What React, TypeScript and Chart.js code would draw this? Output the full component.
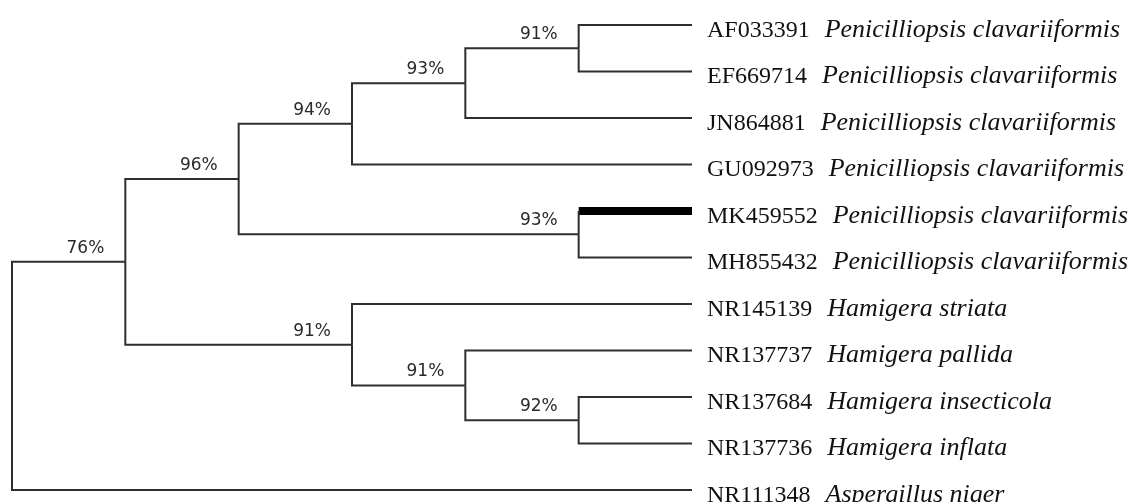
import { useEffect, useRef } from "react";
import { Chart, registerables } from "chart.js";

Chart.register(...registerables);

// Leaves in display order (top to bottom)
const accessions = [
  "AF033391",
  "EF669714",
  "JN864881",
  "GU092973",
  "MK459552",
  "MH855432",
  "NR145139",
  "NR137737",
  "NR137684",
  "NR137736",
  "NR111348",
];
const species = [
  "Penicilliopsis clavariiformis",
  "Penicilliopsis clavariiformis",
  "Penicilliopsis clavariiformis",
  "Penicilliopsis clavariiformis",
  "Penicilliopsis clavariiformis",
  "Penicilliopsis clavariiformis",
  "Hamigera striata",
  "Hamigera pallida",
  "Hamigera insecticola",
  "Hamigera inflata",
  "Aspergillus niger",
];
const highlightedLeaves = ["MK459552"];

// Internal clades (cladogram)
const cladeIds = ["root", "c76", "c96", "c94", "c93a", "c91a", "c93b", "c91b", "c91c", "c92"];
const cladeChildren = [
  ["c76", "NR111348"],
  ["c96", "c91b"],
  ["c94", "c93b"],
  ["c93a", "GU092973"],
  ["c91a", "JN864881"],
  ["AF033391", "EF669714"],
  ["MK459552", "MH855432"],
  ["NR145139", "c91c"],
  ["NR137737", "c92"],
  ["NR137684", "NR137736"],
];
const cladeSupport = [null, "76%", "96%", "94%", "93%", "91%", "93%", "91%", "91%", "92%"];
const tipDepth = 6;

type P = { x: number; y: number };

function buildTree() {
  const pos: Record<string, P> = {};
  accessions.forEach((a, i) => (pos[a] = { x: tipDepth, y: i }));
  // returns height (max steps to a leaf)
  const place = (id: string): number => {
    const idx = cladeIds.indexOf(id);
    if (idx < 0) return 0;
    const kids = cladeChildren[idx];
    const h = Math.max(...kids.map((c) => place(c))) + 1;
    const y = (pos[kids[0]].y + pos[kids[kids.length - 1]].y) / 2;
    pos[id] = { x: tipDepth - h, y };
    return h;
  };
  place("root");
  const edges: { from: P; to: P; child: string }[] = [];
  cladeIds.forEach((id, i) => {
    cladeChildren[i].forEach((c) => edges.push({ from: pos[id], to: pos[c], child: c }));
  });
  return { pos, edges };
}

const LINE = "#2e2e2e";

export default function App() {
  const ref = useRef<HTMLCanvasElement | null>(null);

  useEffect(() => {
    if (!ref.current) return;
    const { pos, edges } = buildTree();
    const datasets: any[] = [];
    const base = {
      showLine: true,
      pointRadius: 0,
      borderColor: LINE,
      borderWidth: 2,
      tension: 0,
      clip: false,
      borderJoinStyle: "miter",
      borderCapStyle: "butt",
      fill: false,
    };
    edges.forEach((e) => {
      if (highlightedLeaves.includes(e.child)) {
        datasets.push({
          ...base,
          data: [
            { x: e.from.x, y: e.from.y },
            { x: e.from.x, y: e.to.y },
          ],
        });
        datasets.push({
          ...base,
          borderColor: "#000",
          borderWidth: 8,
          data: [
            { x: e.from.x, y: e.to.y },
            { x: e.to.x, y: e.to.y },
          ],
        });
      } else {
        datasets.push({
          ...base,
          data: [
            { x: e.from.x, y: e.from.y },
            { x: e.from.x, y: e.to.y },
            { x: e.to.x, y: e.to.y },
          ],
        });
      }
    });

    const labelPlugin = {
      id: "treeLabels",
      afterDatasetsDraw(chart: any) {
        const ctx = chart.ctx;
        const xs = chart.scales.x;
        const ys = chart.scales.y;
        ctx.save();
        // support values
        ctx.font = "17px 'DejaVu Sans'";
        ctx.fillStyle = "#2a2a2a";
        ctx.textAlign = "right";
        ctx.textBaseline = "alphabetic";
        cladeIds.forEach((id, i) => {
          const s = cladeSupport[i];
          if (!s) return;
          const p = pos[id];
          ctx.fillText(s, xs.getPixelForValue(p.x) - 21, ys.getPixelForValue(p.y) - 9);
        });
        // leaf labels
        ctx.textAlign = "left";
        ctx.fillStyle = "#111";
        accessions.forEach((a, i) => {
          const p = pos[a];
          const x0 = xs.getPixelForValue(p.x) + 15;
          const y0 = ys.getPixelForValue(p.y) + 11.5;
          ctx.font = "24px 'Liberation Serif'";
          ctx.fillText(a, x0, y0);
          const w = ctx.measureText(a).width;
          ctx.font = "italic 26px 'Liberation Serif'";
          ctx.fillText(species[i], x0 + w + 15, y0);
        });
        ctx.restore();
      },
    };

    const chart = new Chart(ref.current, {
      type: "scatter",
      data: { datasets },
      options: {
        animation: false,
        responsive: false,
        events: [],
        layout: { padding: { left: 12, right: 444, top: 25, bottom: 12 } },
        scales: {
          x: { type: "linear", min: 0, max: tipDepth, display: false },
          y: { type: "linear", min: 0, max: accessions.length - 1, reverse: true, display: false },
        },
        plugins: { legend: { display: false }, tooltip: { enabled: false } },
      },
      plugins: [labelPlugin],
    } as any);
    return () => chart.destroy();
  }, []);

  return (
    <div style={{ position: "fixed", left: 0, top: 0, width: 1136, height: 502, background: "#fff" }}>
      <canvas ref={ref} width={1136} height={502} style={{ display: "block", width: 1136, height: 502 }} />
    </div>
  );
}
